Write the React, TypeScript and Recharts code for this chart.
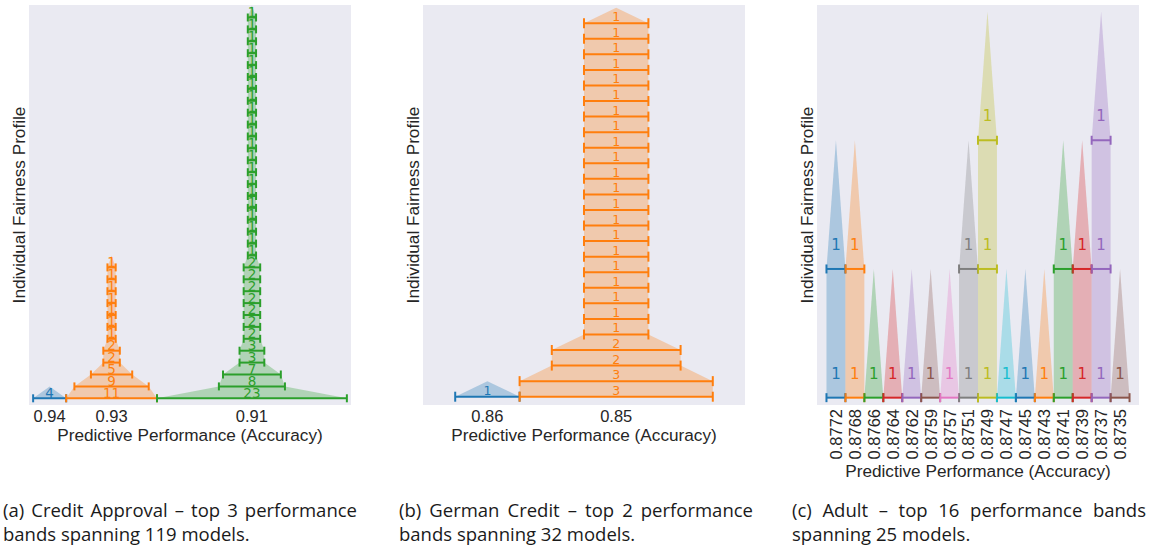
import React from 'react';
import { ScatterChart, Scatter, XAxis, YAxis, CartesianGrid, ErrorBar } from 'recharts';

// ---------- Colours (matplotlib tab10 cycle) ----------
const TAB10 = ['#1f77b4', '#ff7f0e', '#2ca02c', '#d62728', '#9467bd', '#8c564b', '#e377c2', '#7f7f7f', '#bcbd22', '#17becf'];

// ---------- Panel (a): Credit Approval ----------
const bandLabelsA = ['0.94', '0.93', '0.91'];
const countsA094 = [4];
const countsA093 = [11, 9, 5, 2, 2, 1, 1, 1, 1, 1, 1, 1];
const countsA091 = [23, 8, 7, 3, 3, 2, 2, 2, 2, 2, 2, 2, 1, 1, 1, 1, 1, 1, 1, 1, 1, 1, 1, 1, 1, 1, 1, 1, 1, 1, 1, 1, 1];

// ---------- Panel (b): German Credit ----------
const bandLabelsB = ['0.86', '0.85'];
const countsB086 = [1];
const countsB085 = [3, 3, 2, 2, 1, 1, 1, 1, 1, 1, 1, 1, 1, 1, 1, 1, 1, 1, 1, 1, 1, 1, 1, 1, 1];

// ---------- Panel (c): Adult ----------
const bandLabelsC = ['0.8772', '0.8768', '0.8766', '0.8764', '0.8762', '0.8759', '0.8757', '0.8751', '0.8749', '0.8747', '0.8745', '0.8743', '0.8741', '0.8739', '0.8737', '0.8735'];
const countsC = [
  [1, 1], [1, 1], [1], [1], [1], [1], [1], [1, 1], [1, 1, 1], [1], [1], [1], [1, 1], [1, 1], [1, 1, 1], [1],
];

const captionA = ['(a) Credit Approval – top 3 performance', 'bands spanning 119 models.'];
const captionB = ['(b) German Credit – top 2 performance', 'bands spanning 32 models.'];
const captionC = ['(c) Adult – top 16 performance bands', 'spanning 25 models.'];

const X_TITLE = 'Predictive Performance (Accuracy)';
const Y_TITLE = 'Individual Fairness Profile';
const TEXT = '#262626';
const SANS = '"Liberation Sans", Arial, sans-serif';

type Band = { label: string; counts: number[]; color: string; center: number };

function layoutBands(labels: string[], counts: number[][]): Band[] {
  let start = 0;
  return labels.map((label, i) => {
    const w = Math.max(...counts[i]);
    const center = start + w / 2;
    start += w;
    return { label, counts: counts[i], color: TAB10[i % 10], center };
  });
}

function polygonPoints(b: Band) {
  const n = b.counts.length;
  const left = b.counts.map((c, k) => ({ x: b.center - c / 2, y: k }));
  const right = b.counts.map((c, k) => ({ x: b.center + c / 2, y: k })).reverse();
  return [...left, { x: b.center, y: n }, ...right];
}

function levelPoints(b: Band) {
  return b.counts.map((c, k) => ({ x: b.center, y: k, err: c / 2, count: c }));
}

const Nothing = () => <g />;

type PanelProps = {
  left: number;
  bands: Band[];
  yDomain: [number, number];
  rotated: boolean;
  labelSize: number;
  labelOffset: number;
  capHalf: number;
};

function Panel({ left, bands, yDomain, rotated, labelSize, labelOffset, capHalf }: PanelProps) {
  const total = bands.reduce((s, b) => s + Math.max(...b.counts), 0);
  const centers = bands.map((b) => b.center);
  const labelOf = (v: number) => {
    const b = bands.find((bb) => Math.abs(bb.center - v) < 1e-6);
    return b ? b.label : '';
  };
  const RotTick = (p: any) => {
    const { x, y, payload } = p;
    return (
      <text
        x={x}
        y={y}
        transform={`rotate(-90, ${x}, ${y})`}
        textAnchor="end"
        dy="0.36em"
        fill={TEXT}
        fontSize={16.5}
        fontFamily={SANS}
      >
        {labelOf(payload.value)}
      </text>
    );
  };
  const axisH = rotated ? 72 : 36;
  return (
    <div style={{ position: 'absolute', left, top: 0 }}>
      <ScatterChart width={360} height={480} margin={{ top: 5, right: 9, left: 0, bottom: 480 - 405 - axisH }}>
        <CartesianGrid fill="#eaeaf2" stroke="none" horizontal={false} vertical={false} />
        <XAxis
          type="number"
          dataKey="x"
          domain={[-0.5, total + 0.5]}
          allowDataOverflow
          ticks={centers}
          interval={0}
          tickFormatter={(v: number) => labelOf(v)}
          axisLine={false}
          tickLine={false}
          tickSize={0}
          tickMargin={rotated ? 4 : 5}
          height={axisH}
          tick={rotated ? RotTick : { fill: TEXT, fontSize: 16.5, fontFamily: SANS }}
          label={{ value: X_TITLE, position: 'insideBottom', offset: 0, fill: TEXT, fontSize: 17.2, fontFamily: SANS }}
        />
        <YAxis
          type="number"
          dataKey="y"
          domain={yDomain}
          allowDataOverflow
          width={29}
          tick={false}
          axisLine={false}
          tickLine={false}
          label={{
            value: Y_TITLE,
            angle: -90,
            position: 'insideLeft',
            offset: 19,
            fill: TEXT,
            fontSize: 17.2,
            fontFamily: SANS,
            style: { textAnchor: 'middle' },
          }}
        />
        {bands.map((b) => (
          <Scatter
            key={'fill-' + b.label}
            data={polygonPoints(b)}
            isAnimationActive={false}
            fill={b.color}
            shape={Nothing}
            line={{ fill: b.color, fillOpacity: 0.3, stroke: 'none' }}
            lineType="joint"
            lineJointType="linear"
          />
        ))}
        {bands.map((b) => (
          <Scatter
            key={'bar-' + b.label}
            data={levelPoints(b)}
            isAnimationActive={false}
            fill={b.color}
            shape={(p: any) => (
              <text
                x={p.cx}
                y={p.cy - labelOffset}
                textAnchor="middle"
                dominantBaseline="central"
                fill={b.color}
                fontSize={labelSize}
                fontFamily='"DejaVu Sans", sans-serif'
              >
                {p.payload.count}
              </text>
            )}
          >
            <ErrorBar dataKey="err" direction="x" width={capHalf} stroke={b.color} strokeWidth={2} />
          </Scatter>
        ))}
      </ScatterChart>
    </div>
  );
}

function Caption({ left, lines }: { left: number; lines: string[] }) {
  return (
    <div
      style={{
        position: 'absolute',
        left,
        top: 498,
        width: 354,
        fontFamily: '"Open Sans", "Noto Sans", sans-serif',
        fontSize: 18.5,
        lineHeight: '24px',
        color: '#1a1a1a',
      }}
    >
      <div style={{ textAlign: 'justify', textAlignLast: 'justify', whiteSpace: 'nowrap' }}>{lines[0]}</div>
      <div style={{ whiteSpace: 'nowrap' }}>{lines[1]}</div>
    </div>
  );
}

export default function App() {
  const bandsA = layoutBands(bandLabelsA, [countsA094, countsA093, countsA091]);
  const bandsB = layoutBands(bandLabelsB, [countsB086, countsB085]);
  const bandsC = layoutBands(bandLabelsC, countsC);
  return (
    <div style={{ position: 'absolute', left: 0, top: 0, width: 1151, height: 550, background: '#ffffff', overflow: 'hidden' }}>
      <Panel left={0} bands={bandsA} yDomain={[-0.563, 33.05]} rotated={false} labelSize={13.5} labelOffset={5.5} capHalf={4} />
      <Panel left={394} bands={bandsB} yDomain={[-0.533, 25.17]} rotated={false} labelSize={12.5} labelOffset={6.5} capHalf={5} />
      <Panel left={788} bands={bandsC} yDomain={[-0.057, 3.051]} rotated={true} labelSize={15} labelOffset={24} capHalf={4.5} />
      <Caption left={3} lines={captionA} />
      <Caption left={399} lines={captionB} />
      <Caption left={792} lines={captionC} />
    </div>
  );
}
